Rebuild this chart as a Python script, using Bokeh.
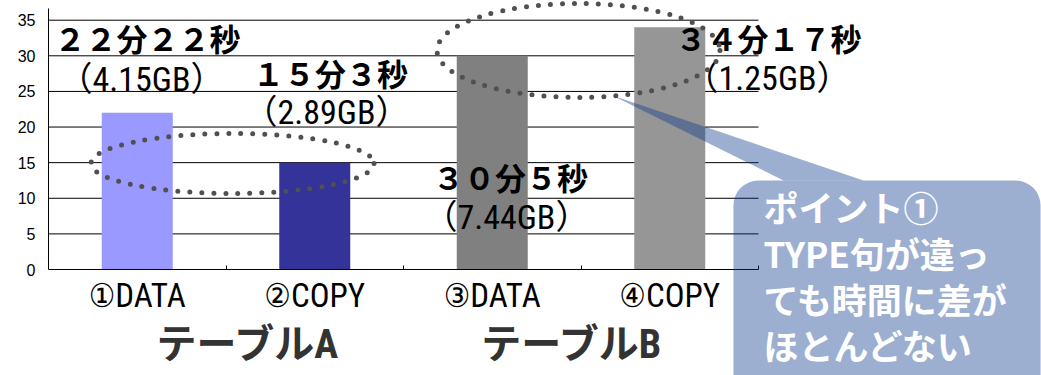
from bokeh.plotting import figure
from bokeh.models import Range1d, FixedTicker, LinearAxis, BoxAnnotation, Label, ColumnDataSource, Grid
from bokeh.core.properties import value
from bokeh.embed import file_html
from bokeh.resources import INLINE

# ---- data ----
categories = ["①DATA", "②COPY", "③DATA", "④COPY"]
minutes = [22, 15, 30, 34]
bar_colors = ["#9999FF", "#333399", "#808080", "#969696"]
time_labels = ["２２分２２秒", "１５分３秒", "３０分５秒", "３４分１７秒"]
size_labels = ["（4.15GB）", "（2.89GB）", "（7.44GB）", "（1.25GB）"]
groups = ["テーブルA", "テーブルB"]
y_ticks = [0, 5, 10, 15, 20, 25, 30, 35]
callout_text = "ポイント①\nTYPE句が違っ\nても時間に差が\nほとんどない"

# ---- layout (positions in axis units) ----
cat_x = [i + 0.5 for i in range(len(categories))]
boundaries = [float(i) for i in range(len(categories) + 1)]
group_x = [1.127, 2.952]
time_pos = [(0.558, 32.15), (1.589, 27.24), (2.603, 12.64), (4.056, 32.15)]
size_pos = [(0.524, 26.81), (1.566, 22.18), (2.580, 7.44), (4.051, 26.95)]

FONT = "'Roboto Condensed', 'DejaVu Sans Condensed', 'Liberation Sans Narrow', 'Noto Sans CJK JP'"

p = figure(width=1041, height=375, output_backend="svg", toolbar_location=None,
           x_range=Range1d(0, 993 / 177.5), y_range=Range1d(-106 / 7.123, 269 / 7.123),
           x_axis_location=None, y_axis_location=None,
           min_border_left=48, min_border_right=0, min_border_top=0,
           min_border_bottom=0)
p.outline_line_color = None
p.background_fill_color = "white"
p.border_fill_color = "white"
for r in list(p.center):
    if isinstance(r, Grid):
        r.visible = False

# y axis
yax = LinearAxis(ticker=FixedTicker(ticks=y_ticks, minor_ticks=[]), bounds=(0, 36.64),
                 major_tick_in=0, major_tick_out=0, minor_tick_line_color=None,
                 major_label_standoff=13, major_label_text_font="Liberation Sans",
                 major_label_text_font_size="16px", major_label_text_color="black",
                 axis_line_color="black")
p.add_layout(yax, "left")

# x axis (categories), drawn at y = 0
xax = LinearAxis(ticker=FixedTicker(ticks=cat_x, minor_ticks=boundaries), bounds=(0, 4),
                 fixed_location=0,
                 major_label_overrides={x: c for x, c in zip(cat_x, categories)},
                 major_tick_line_color=None, minor_tick_in=4, minor_tick_out=0,
                 minor_tick_line_color="black", axis_line_color="black",
                 major_label_standoff=0, major_label_text_font=FONT,
                 major_label_text_font_size="33px", major_label_text_color="black")
p.add_layout(xax, "below")

# x axis (groups)
xax2 = LinearAxis(ticker=FixedTicker(ticks=group_x, minor_ticks=[]),
                  fixed_location=0,
                  major_label_overrides={x: g for x, g in zip(group_x, groups)},
                  axis_line_color=None, major_tick_line_color=None, minor_tick_line_color=None,
                  major_label_standoff=45, major_label_text_font=FONT,
                  major_label_text_font_size="40px", major_label_text_font_style="bold",
                  major_label_text_color="#333333")
p.add_layout(xax2, "below")

# grid lines (only across the category span)
grid_y = [t for t in y_ticks if t > 0]
p.segment(x0=[0] * len(grid_y), x1=[4] * len(grid_y), y0=grid_y, y1=grid_y,
          line_color="black", line_width=1)

# bars
src = ColumnDataSource(dict(x=cat_x, top=minutes, color=bar_colors))
p.vbar(x="x", top="top", width=0.4, color="color", source=src, line_color=None)

# value annotations
p.text(x=[a for a, b in time_pos], y=[b for a, b in time_pos], text=time_labels,
       text_font=value(FONT), text_font_size="31px", text_font_style="bold",
       text_align="center", text_baseline="middle", text_color="black")
p.text(x=[a for a, b in size_pos], y=[b for a, b in size_pos], text=size_labels,
       text_font=value(FONT), text_font_size="34px",
       text_align="center", text_baseline="middle", text_color="black")

# dotted ellipses
p.ellipse(x=[1.037, 2.986], y=[14.88, 30.75], width=[1.594, 1.594], height=[8.42, 13.2],
          fill_color=None, line_color="#505050", line_width=5, line_dash="0 12",
          line_cap="round")

# callout pointer
p.patch(x=[3.177, 4.141, 4.592], y=[24.43, 12.49, 12.49],
        fill_color="#0A3789", fill_alpha=0.4, line_color=None)

# callout box + text
box = BoxAnnotation(left=3.859, right=5.589, top=12.49, bottom=-20,
                    fill_color="#0A3789", fill_alpha=0.4, line_color=None,
                    border_radius=25)
p.add_layout(box)
lab = Label(x=4.028, y=12.36, text=callout_text, text_font="Noto Sans CJK JP",
            text_font_size="35px", text_font_style="bold", text_color="white",
            text_baseline="top", text_align="left", text_line_height=0.9)
p.add_layout(lab)

open("out.html", "w").write(file_html(p, INLINE))
